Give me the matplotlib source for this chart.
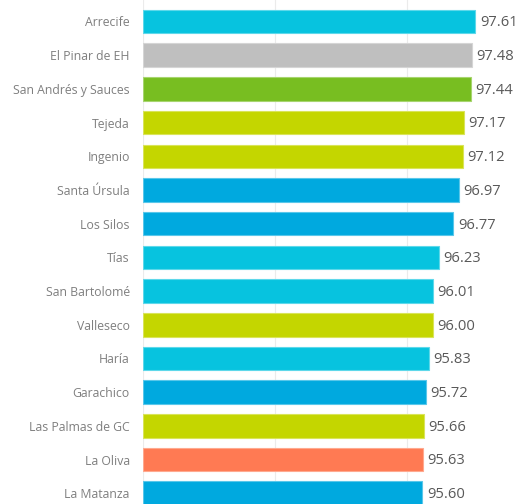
import matplotlib
matplotlib.use("Agg")
import matplotlib.pyplot as plt
from matplotlib.colors import to_rgb

categories = ["Arrecife", "El Pinar de EH", "San Andrés y Sauces", "Tejeda", "Ingenio",
              "Santa Úrsula", "Los Silos", "Tías", "San Bartolomé", "Valleseco",
              "Haría", "Garachico", "Las Palmas de GC", "La Oliva", "La Matanza"]
values = [97.61, 97.48, 97.44, 97.17, 97.12, 96.97, 96.77, 96.23, 96.01, 96.00,
          95.83, 95.72, 95.66, 95.63, 95.60]
islands = ["Lanzarote", "El Hierro", "La Palma", "Gran Canaria", "Gran Canaria",
           "Tenerife", "Tenerife", "Lanzarote", "Lanzarote", "Gran Canaria",
           "Lanzarote", "Tenerife", "Gran Canaria", "Fuerteventura", "Tenerife"]
island_colors = {"Lanzarote": "#07C3DF", "El Hierro": "#BFBFBF", "La Palma": "#78BE21",
                 "Gran Canaria": "#C4D600", "Tenerife": "#00A9DF", "Fuerteventura": "#FF7A53"}

plt.rcParams['font.family'] = ['Open Sans', 'DejaVu Sans']

fig = plt.figure(figsize=(5.21, 5.04), dpi=100)
ax = fig.add_axes([143/521, 0, 395.5/521, 1])

def lighten(c, f=0.35):
    r, g, b = to_rgb(c)
    return (r + (1-r)*f, g + (1-g)*f, b + (1-b)*f)

xmin = 85
ypos = list(range(len(categories)))
cols = [island_colors[i] for i in islands]
bars = ax.barh(ypos, [v - xmin for v in values], left=xmin, height=0.70,
               color=cols, edgecolor=[lighten(c) for c in cols], linewidth=0.8, zorder=2)

for y, v in zip(ypos, values):
    ax.annotate(f"{v:.2f}", xy=(v, y), xytext=(3.2, -1), textcoords="offset points",
                ha="left", va="center", fontsize=10.6, color="#595959", zorder=3)

ax.set_xlim(85, 100)
ax.set_ylim(14.318, -0.638)
ax.set_xticks([85, 90, 95, 100])
ax.xaxis.grid(True, color="#EBEBEB", linewidth=0.8, zorder=0)
ax.set_axisbelow(True)
ax.tick_params(axis='x', length=0, labelbottom=False)
ax.set_yticks(ypos)
ax.set_yticklabels(categories, fontsize=8.8, color="#7F7F7F")
ax.tick_params(axis='y', length=0, pad=9.5)
for s in ax.spines.values():
    s.set_visible(False)

fig.savefig("out.png", dpi=100)
